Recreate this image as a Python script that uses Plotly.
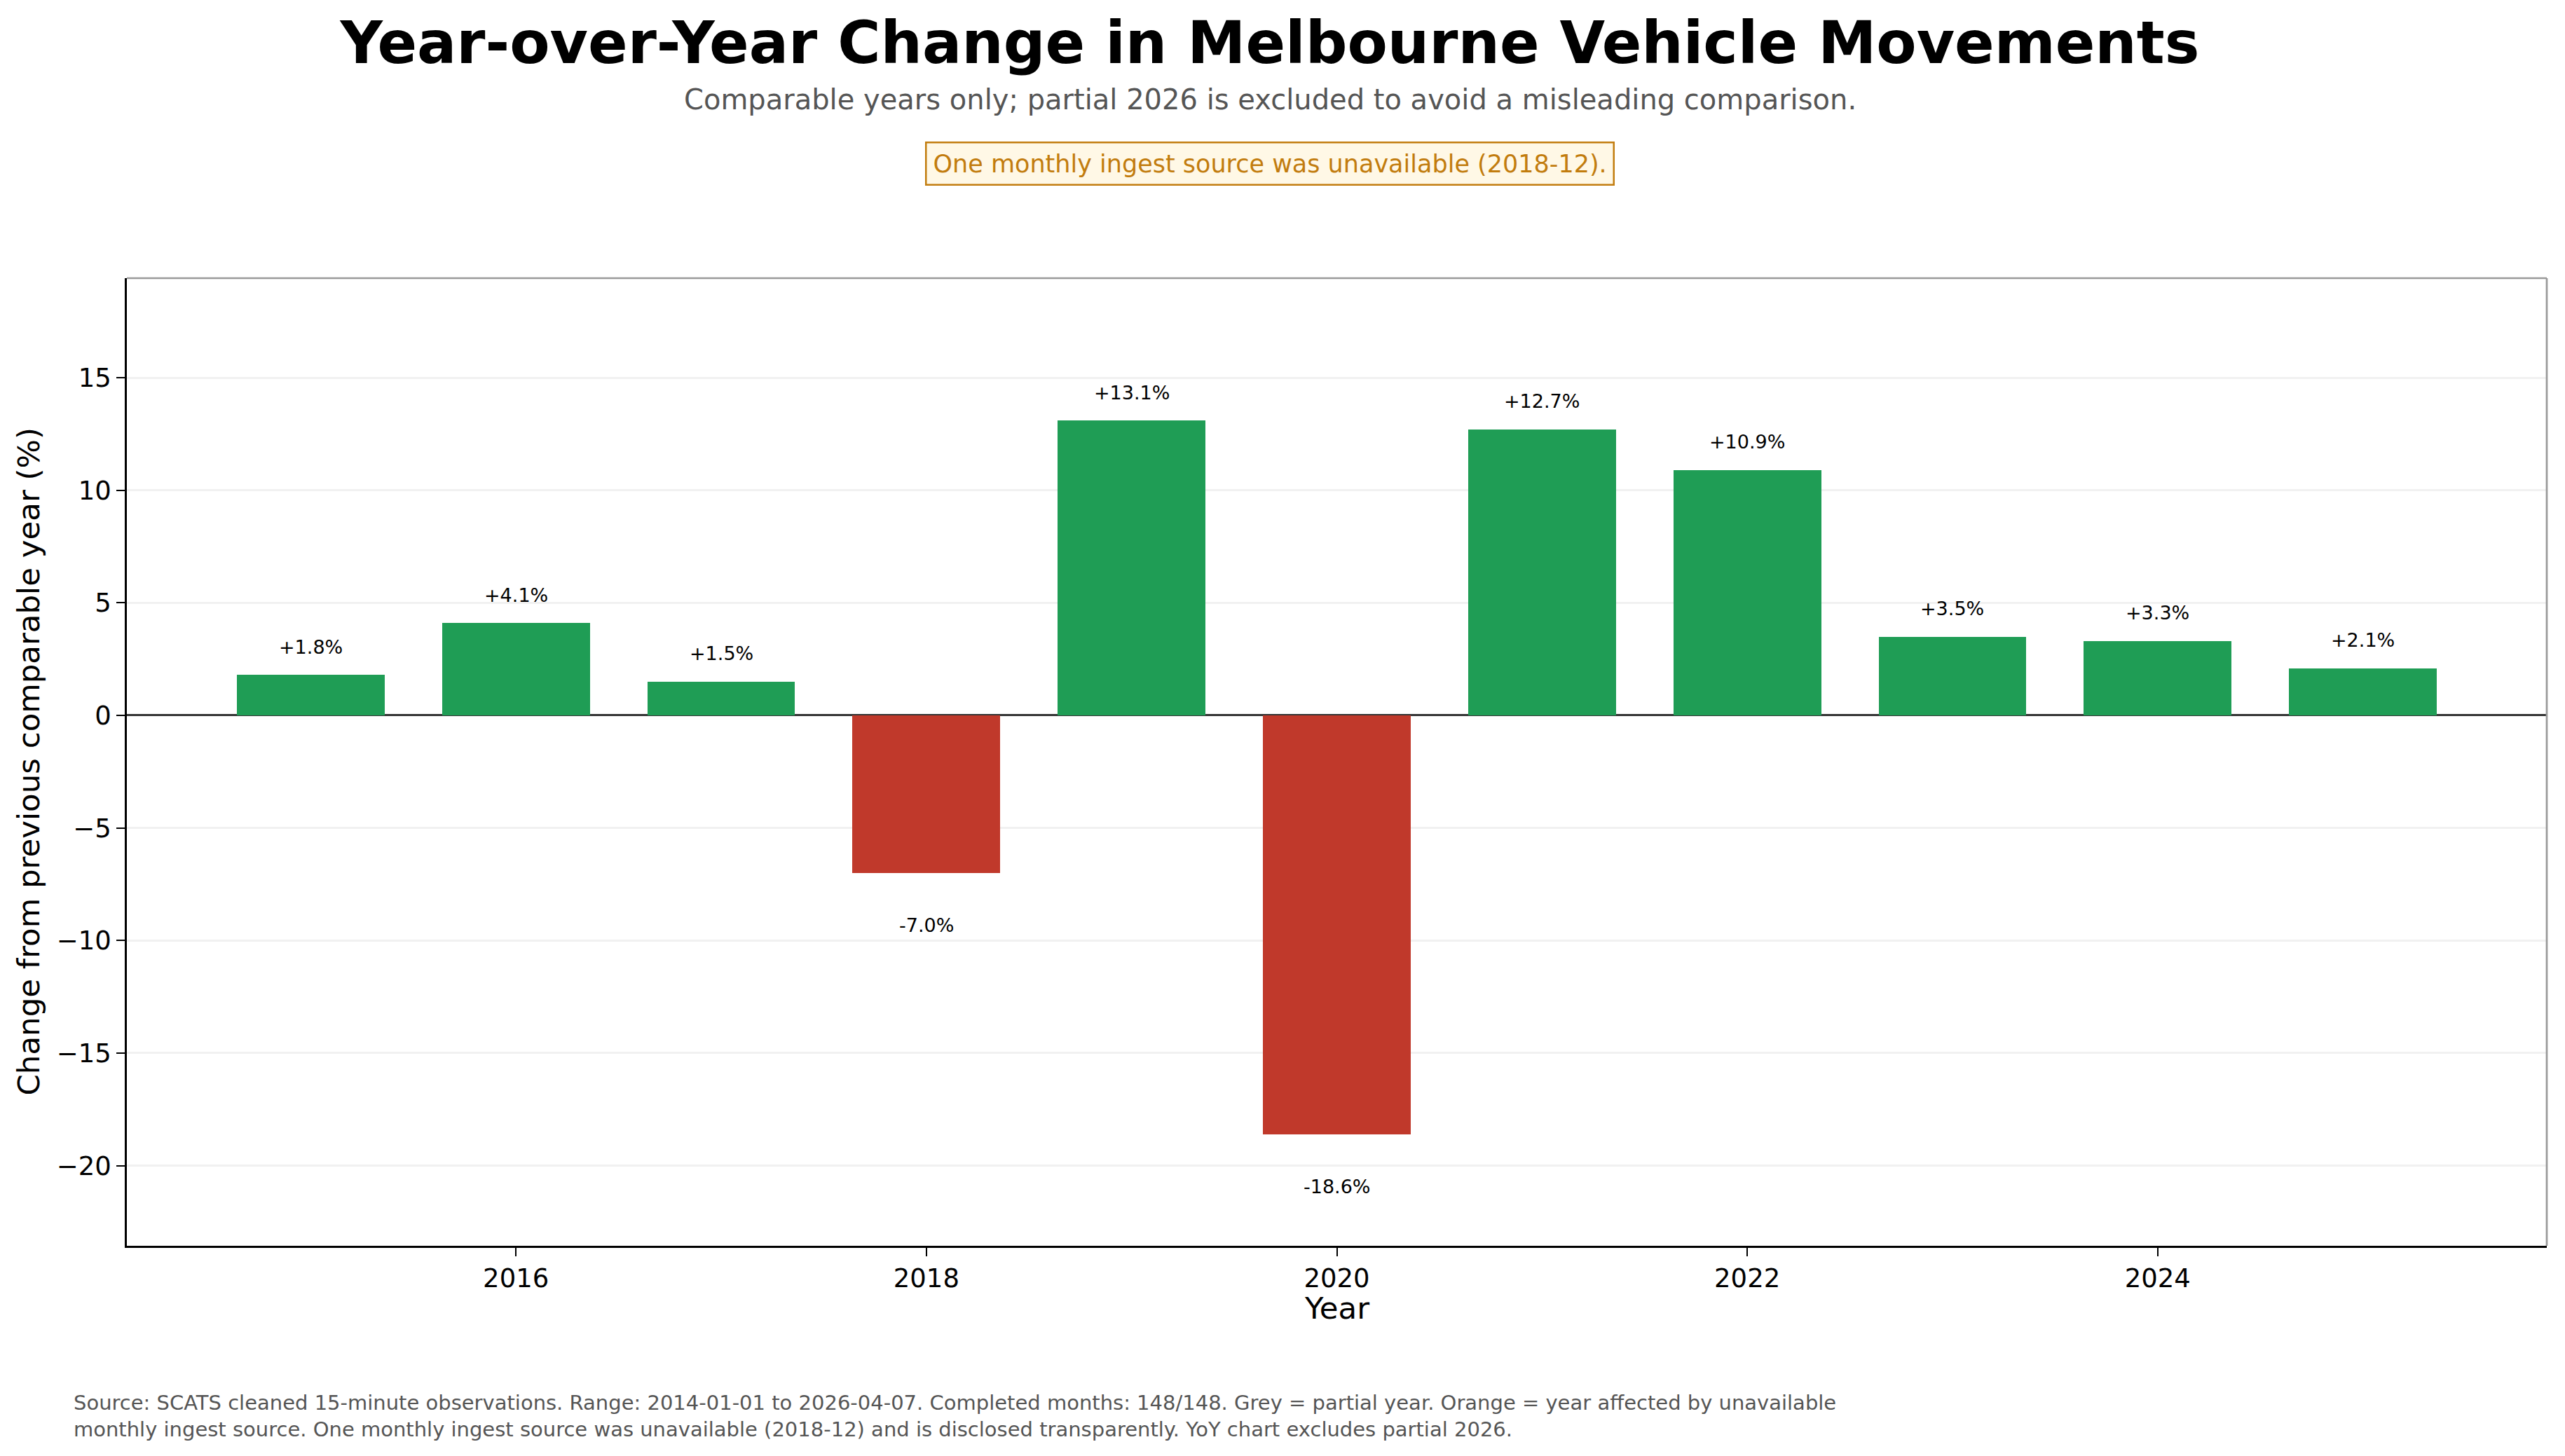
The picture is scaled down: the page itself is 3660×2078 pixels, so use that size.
import plotly.graph_objects as go

years = [2015, 2016, 2017, 2018, 2019, 2020, 2021, 2022, 2023, 2024, 2025]
yoy_pct = [1.8, 4.1, 1.5, -7.0, 13.1, -18.6, 12.7, 10.9, 3.5, 3.3, 2.1]
x_ticks = [2016, 2018, 2020, 2022, 2024]
y_ticks = [-20, -15, -10, -5, 0, 5, 10, 15]

title = "Year-over-Year Change in Melbourne Vehicle Movements"
subtitle = "Comparable years only; partial 2026 is excluded to avoid a misleading comparison."
notice = "One monthly ingest source was unavailable (2018-12)."
footer = ("Source: SCATS cleaned 15-minute observations. Range: 2014-01-01 to 2026-04-07. Completed months: 148/148. "
          "Grey = partial year. Orange = year affected by unavailable<br>monthly ingest source. One monthly ingest source "
          "was unavailable (2018-12) and is disclosed transparently. YoY chart excludes partial 2026.")

GREEN = "#1f9d55"
RED = "#c0392b"
FONT = "DejaVu Sans"

W, H = 3660, 2078
L, R, T, B = 181, 26, 397, 300
pw, ph = W - L - R, H - T - B


def px_x(px):
    return (px - L) / pw


def px_y(py):
    return (H - B - py) / ph


colors = [GREEN if v >= 0 else RED for v in yoy_pct]

fig = go.Figure()
fig.add_trace(go.Bar(x=years, y=yoy_pct, width=0.72, marker=dict(color=colors, line=dict(width=0)),
                     hoverinfo="x+y"))

annotations = []
for yr, v in zip(years, yoy_pct):
    label = f"+{v:.1f}%" if v >= 0 else f"{v:.1f}%"
    annotations.append(dict(x=yr, y=v, xref="x", yref="y", text=label, showarrow=False,
                            yshift=40 if v >= 0 else -75, yanchor="middle",
                            font=dict(family=FONT, size=27, color="black")))

annotations += [
    dict(x=px_x(1812), y=px_y(142), xref="paper", yref="paper", text=subtitle, showarrow=False,
         xanchor="center", yanchor="middle", font=dict(family=FONT, size=40, color="#555555")),
    dict(x=px_x(1812), y=px_y(233), xref="paper", yref="paper", text=notice, showarrow=False,
         xanchor="center", yanchor="middle", font=dict(family=FONT, size=35, color="#c27c0e"),
         bgcolor="#fff8e6", bordercolor="#c27c0e", borderwidth=2.5, borderpad=9),
    dict(x=px_x(103), y=px_y(2021), xref="paper", yref="paper", text=footer, showarrow=False,
         xanchor="left", yanchor="middle", align="left",
         font=dict(family=FONT, size=29, color="#555555")),
    dict(x=px_x(40), y=px_y((T + H - B) / 2), xref="paper", yref="paper",
         text="Change from previous comparable year (%)", textangle=-90, showarrow=False,
         xanchor="center", yanchor="middle", font=dict(family=FONT, size=43.5, color="black")),
    dict(x=0.5, y=px_y(1867), xref="paper", yref="paper", text="Year", showarrow=False,
         xanchor="center", yanchor="middle", font=dict(family=FONT, size=43.5, color="black")),
]

shapes = [
    dict(type="line", xref="paper", yref="paper", x0=0, x1=1, y0=1, y1=1,
         line=dict(color="#999999", width=2.7)),
    dict(type="line", xref="paper", yref="paper", x0=1, x1=1, y0=0, y1=1,
         line=dict(color="#999999", width=2.7)),
]

fig.update_layout(
    width=W, height=H,
    margin=dict(l=L, r=R, t=T, b=B, pad=0),
    paper_bgcolor="white", plot_bgcolor="white",
    showlegend=False,
    bargap=0,
    title=dict(text=f"<b>{title}</b>", x=1812 / W, xref="container", xanchor="center",
               y=1 - 61 / H, yref="container", yanchor="middle",
               font=dict(family=FONT, size=83.5, color="black")),
    annotations=annotations,
    shapes=shapes,
    font=dict(family=FONT, color="black"),
)

fig.update_xaxes(range=[2014.104, 2025.896], tickvals=x_ticks, ticktext=[str(t) for t in x_ticks],
                 showgrid=False, zeroline=False, showline=True, linecolor="black", linewidth=2.7,
                 ticks="outside", ticklen=12, tickwidth=2.2, tickcolor="black",
                 tickfont=dict(family=FONT, size=37, color="black"))
fig.update_yaxes(range=[-23.56, 19.42], tickvals=y_ticks,
                 showgrid=True, gridcolor="rgba(215,215,215,0.35)", gridwidth=2.7,
                 zeroline=True, zerolinecolor="#333333", zerolinewidth=3.2,
                 showline=True, linecolor="black", linewidth=2.7,
                 ticks="outside", ticklen=12, tickwidth=2.2, tickcolor="black",
                 tickfont=dict(family=FONT, size=37, color="black"), layer="above traces")

fig.write_html("out.html")
